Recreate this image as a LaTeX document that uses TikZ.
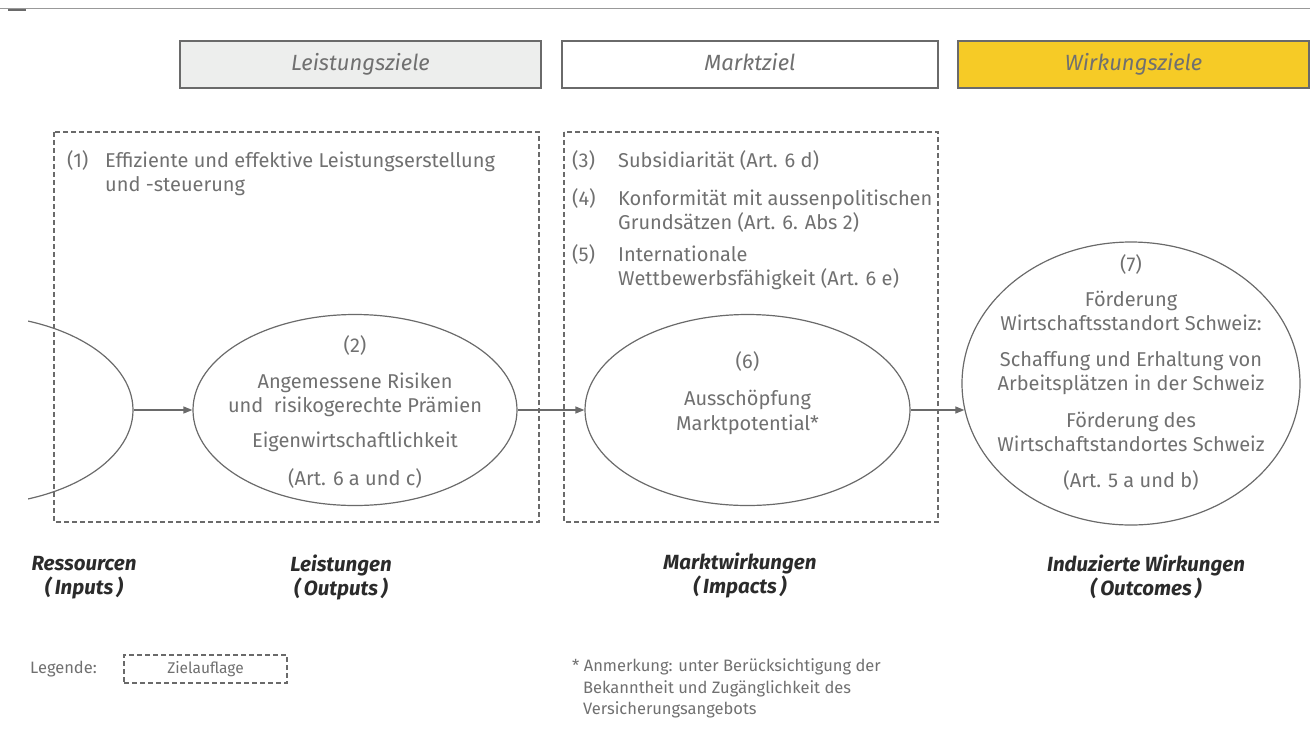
\documentclass[tikz,border=0pt]{standalone}
\usepackage{fontspec}
\setmainfont{Fira Sans}
\usetikzlibrary{shapes.geometric,arrows.meta}
\definecolor{txt}{HTML}{707070}
\definecolor{dark}{HTML}{2B2B2B}
\definecolor{ln}{HTML}{6A6A6A}
\definecolor{ylw}{HTML}{F6CB26}
\definecolor{lgray}{HTML}{EDEEED}
\tikzset{
  hdr/.style={draw=ln, line width=1.3pt, minimum width=#1, minimum height=47pt, inner sep=0pt},
  hdrtext/.style={font=\fontsize{22}{26}\selectfont\itshape, text=txt, inner sep=0pt, anchor=mid, yshift=-3pt},
  zbox/.style={draw=ln, line width=1.2pt, dash pattern=on 5pt off 3pt},
  oval/.style={draw=ln, line width=1.2pt, ellipse, inner sep=0pt},
  conn/.style={draw=ln, line width=1.2pt, -{Triangle[length=9pt,width=7pt]}},
  body/.style={font=\fontsize{20}{23}\selectfont, text=txt, inner sep=0pt, yshift=-4pt},
  bl/.style={body, anchor=mid west},
  ct/.style={body, anchor=mid},
  lab/.style={font=\fontsize{20.5}{24}\selectfont\bfseries\itshape, text=dark, inner sep=0pt, anchor=mid, yshift=-5pt},
  small/.style={font=\fontsize{16.5}{19}\selectfont, text=txt, inner sep=0pt, anchor=mid west, yshift=-2pt}
}
\begin{document}
\begin{tikzpicture}[x=1pt,y=-1pt]
\useasboundingbox (0,0) rectangle (1310,740);
% top rule
\draw[color=gray!80, line width=1.5pt] (0,8.5) -- (1310,8.5);
\draw[color=ln, line width=2pt] (8,10) -- (26,10);

% headers
\node[hdr=361pt, fill=lgray] (h1) at (360.5,64.5) {};
\node[hdr=376pt, fill=white] (h2) at (750,64.5) {};
\node[hdr=351pt, fill=ylw] (h3) at (1133.5,64.5) {};
\node[hdrtext] (h1t) at (h1.center) {Leistungsziele};
\node[hdrtext] (h2t) at (h2.center) {Marktziel};
\node[hdrtext] (h3t) at (h3.center) {Wirkungsziele};

% dashed target boxes
\draw[zbox] (54,132) rectangle (539,522);
\draw[zbox] (564,132) rectangle (938,522);

% box 1 text
\node[bl] (n1) at (67,161) {(1)};
\node[bl] (t1a) at (105,161) {Effiziente und effektive Leistungserstellung};
\node[bl] (t1b) at (105,185) {und -steuerung};

% box 2 text
\node[bl] (n3) at (572,161) {(3)};
\node[bl] (t3) at (618,161) {Subsidiarität (Art. 6 d)};
\node[bl] (n4) at (572,199) {(4)};
\node[bl] (t4a) at (618,199) {Konformität mit aussenpolitischen};
\node[bl] (t4b) at (618,223) {Grundsätzen (Art. 6. Abs 2)};
\node[bl] (n5) at (572,255) {(5)};
\node[bl] (t5a) at (618,255) {Internationale};
\node[bl] (t5b) at (618,279) {Wettbewerbsfähigkeit (Art. 6 e)};

% left partial ellipse
\begin{scope}
\clip (28,300) rectangle (200,520);
\node[oval, minimum width=324pt, minimum height=190pt] (res) at (-29,410) {};
\end{scope}

% ellipses
\node[oval, minimum width=324pt, minimum height=191pt] (e2) at (355,410) {};
\node[oval, minimum width=325pt, minimum height=191pt] (e6) at (747.5,410) {};
\node[oval, minimum width=338pt, minimum height=283pt] (e7) at (1131,383.5) {};

% texts in ellipses
\node[ct] (e2a) at (355,346) {(2)};
\node[ct] (e2b) at (355,382) {Angemessene Risiken};
\node[ct] (e2c) at (355,406) {und\ \ risikogerechte Prämien};
\node[ct] (e2d) at (355,441) {Eigenwirtschaftlichkeit};
\node[ct] (e2e) at (355,479) {(Art. 6 a und c)};

\node[ct] (e6a) at (747.5,362) {(6)};
\node[ct] (e6b) at (747.5,399) {Ausschöpfung};
\node[ct] (e6c) at (747.5,424) {Marktpotential*};

\node[ct] (e7a) at (1131,265) {(7)};
\node[ct] (e7b) at (1131,300) {Förderung};
\node[ct] (e7c) at (1131,324) {Wirtschaftsstandort Schweiz:};
\node[ct] (e7d) at (1131,360) {Schaffung und Erhaltung von};
\node[ct] (e7e) at (1131,384) {Arbeitsplätzen in der Schweiz};
\node[ct] (e7f) at (1131,421) {Förderung des};
\node[ct] (e7g) at (1131,445) {Wirtschaftstandortes Schweiz};
\node[ct] (e7h) at (1131,481) {(Art. 5 a und b)};

% connectors
\draw[conn] (res.east) -- (e2.west);
\draw[conn] (e2.east) -- (e6.west);
\draw[conn] (e6.east) -- (e6.east -| e7.189);

% bottom labels
\node[lab] (l1a) at (84,563) {Ressourcen};
\node[lab] (l1b) at (84,587) {(\,Inputs\,)};
\node[lab] (l2a) at (341,564) {Leistungen};
\node[lab] (l2b) at (341,588) {(\,Outputs\,)};
\node[lab] (l3a) at (740,562) {Marktwirkungen};
\node[lab] (l3b) at (740,586) {(\,Impacts\,)};
\node[lab] (l4a) at (1146,564) {Induzierte Wirkungen};
\node[lab] (l4b) at (1146,588) {(\,Outcomes\,)};

% legend
\node[small] (leg) at (30,669) {Legende:};
\node[zbox, minimum width=163pt, minimum height=28pt] (legbox) at (205.5,669) {};
\node[small, anchor=mid, font=\fontsize{15.5}{18}\selectfont] (legt) at (legbox.center) {Zielauflage};

% footnote
\node[small] (f1) at (572,667) {* Anmerkung: unter Berücksichtigung der};
\node[small] (f2) at (583,689) {Bekanntheit und Zugänglichkeit des};
\node[small] (f3) at (583,710) {Versicherungsangebots};
\end{tikzpicture}
\end{document}
